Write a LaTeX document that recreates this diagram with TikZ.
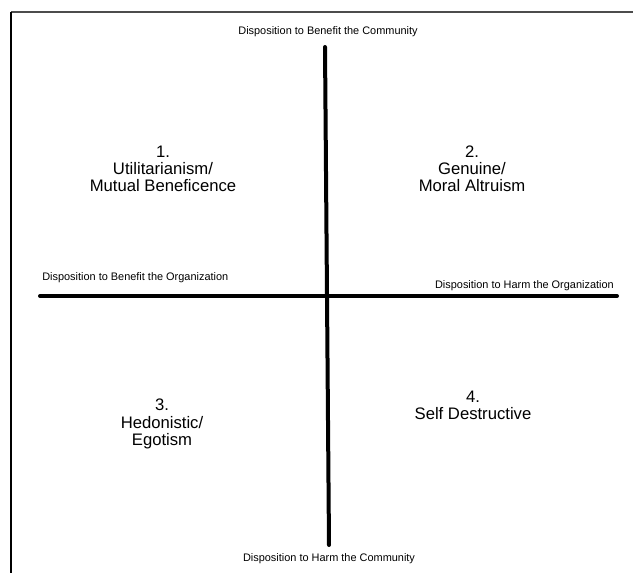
\documentclass[tikz,border=0pt]{standalone}
\usepackage{fontspec}
\setmainfont{Liberation Sans}
\usepackage{tikz}
\usetikzlibrary{positioning}

\begin{document}
\begin{tikzpicture}[
        x=0.75pt, y=-0.75pt,
        axis/.style={line width=3pt, line cap=round},
        pole/.style={font=\fontsize{8.2}{10}\selectfont, inner sep=0pt},
        quad/.style={font=\fontsize{12.5}{12.9}\selectfont, align=center, inner sep=0pt},
    ]
    \useasboundingbox (0,0) rectangle (633,573);

    %% Frame
    \draw[black!70, line width=1.2pt] (640,12) -- (11,12);
    \draw[line width=1.4pt] (11,12) -- (11,580);

    %% Axis end points
    \coordinate (ctop) at (325,47);
    \coordinate (cbot) at (329,545);
    \coordinate (oleft) at (40,296);
    \coordinate (oright) at (617,296);

    %% Axes
    \draw[axis] (ctop) -- (cbot);
    \draw[axis] (oleft) -- (oright);

    %% Poles
    \node[pole] (benefitcom) at (328,32) {Disposition to Benefit the Community};
    \node[pole] (harmcom) at (329,559) {Disposition to Harm the Community};
    \node[pole, anchor=west] (benefitorg) at (42,278) {Disposition to Benefit the Organization};
    \node[pole, anchor=east] (harmorg) at (614,286) {Disposition to Harm the Organization};

    %% Quadrants
    \node[quad] (q1) at (163,169) {1.\\Utilitarianism/\\Mutual Beneficence};
    \node[quad] (q2) at (472,169) {2.\\Genuine/\\Moral Altruism};
    \node[quad] (q3) at (162,424) {3.\\Hedonistic/\\Egotism};
    \node[quad] (q4) at (473,405.5) {4.\\Self Destructive};

\end{tikzpicture}
\end{document}
